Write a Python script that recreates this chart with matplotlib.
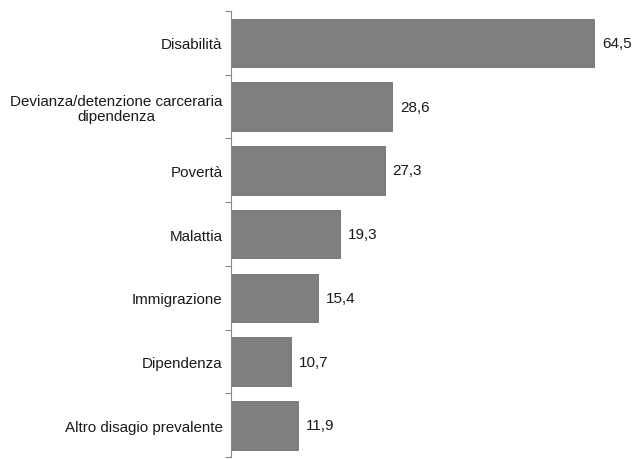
import matplotlib.pyplot as plt
import numpy as np

plt.rcParams['font.family'] = ['Liberation Sans', 'DejaVu Sans']

categorie = ['Disabilità', 'Devianza/detenzione carceraria\ndipendenza', 'Povertà',
             'Malattia', 'Immigrazione', 'Dipendenza', 'Altro disagio prevalente']
valori = [64.5, 28.6, 27.3, 19.3, 15.4, 10.7, 11.9]
etichette = ['64,5', '28,6', '27,3', '19,3', '15,4', '10,7', '11,9']

fig = plt.figure(figsize=(6.34, 4.6), dpi=100)
ax = fig.add_axes([0.364, 0.004, 0.622, 0.97])

y = np.arange(len(categorie))
bars = ax.barh(y, valori, height=0.76, color='#7f7f7f', edgecolor='#6e6e6e', linewidth=0.6)
ax.set_ylim(len(categorie) - 0.5, -0.5)
ax.set_xlim(0, 70)

for b, lab in zip(bars, etichette):
    ax.text(b.get_width() + 1.4, b.get_y() + b.get_height() / 2, lab,
            va='center', ha='left', fontsize=11, color='#1a1a1a')

ax.set_yticks(y)
ax.set_yticklabels(categorie, fontsize=10.9, color='#1a1a1a', multialignment='center',
                   linespacing=1.05)
ax.tick_params(axis='y', which='major', length=0, pad=6)
ax.set_yticks(np.arange(len(categorie) + 1) - 0.5, minor=True)
ax.tick_params(axis='y', which='minor', length=4, color='#888888', width=0.8)

ax.set_xticks([])
for s in ['top', 'right', 'bottom']:
    ax.spines[s].set_visible(False)
ax.spines['left'].set_color('#888888')
ax.spines['left'].set_linewidth(0.8)

fig.savefig('out.png', dpi=100)
